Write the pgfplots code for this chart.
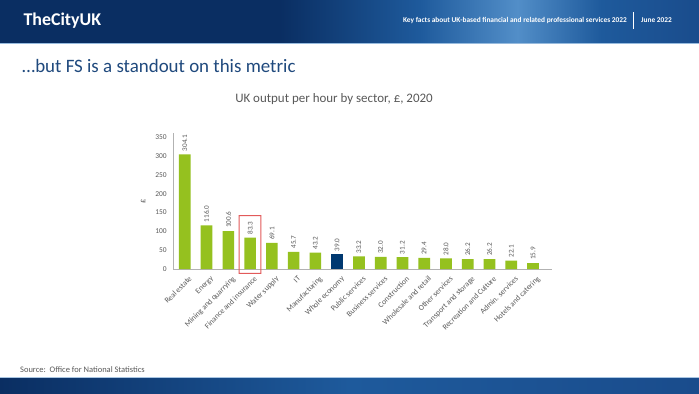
\documentclass[border=0pt]{standalone}
\usepackage{fontspec}
\setmainfont{Carlito}
\usepackage{pgfplots}
\pgfplotsset{compat=1.18}
\definecolor{barg}{RGB}{149,193,31}
\definecolor{barb}{RGB}{0,56,112}
\definecolor{txtg}{RGB}{89,89,89}
\definecolor{ttlb}{RGB}{31,73,125}
\definecolor{hdrA}{RGB}{10,46,98}
\definecolor{hdrB}{RGB}{30,90,156}
\definecolor{hdrC}{RGB}{82,142,200}
\definecolor{hdrD}{RGB}{26,76,140}
\definecolor{boxr}{RGB}{226,90,90}
\pgfdeclarehorizontalshading{hdr}{100bp}{color(0bp)=(hdrA); color(25bp)=(hdrA); color(45bp)=(hdrA); color(55bp)=(hdrB); color(62bp)=(hdrC); color(68bp)=(hdrB); color(75bp)=(hdrD); color(100bp)=(hdrD)}
\pgfplotstableread{
x y
0 304.1
1 116.0
2 100.6
3 83.3
4 69.1
5 45.7
6 43.2
8 33.2
9 32.0
10 31.2
11 29.4
12 28.0
13 26.2
14 26.2
15 22.1
16 15.9
}\greendata
\pgfplotstableread{
x y
7 39.0
}\bluedata
\begin{document}
\begin{tikzpicture}[x=1bp,y=1bp]
\useasboundingbox (0,0) rectangle (699,393);
\fill[white] (0,0) rectangle (699,393);
% header
\shade[shading=hdr] (0,350) rectangle (699,393);
\fill[hdrC!60!white] (0,349.5) rectangle (699,350.5);
\node[anchor=west, text=white, font=\fontsize{18}{20}\selectfont\bfseries] at (20,372.5) {TheCityUK};
\node[anchor=east, text=white, font=\fontsize{7.4}{9}\selectfont\bfseries, inner sep=0pt] at (627,373) {Key facts about UK-based financial and related professional services 2022};
\draw[white, line width=0.6pt] (633,364) -- (633,381);
\node[anchor=west, text=white, font=\fontsize{7.4}{9}\selectfont\bfseries, inner sep=0pt] at (641,373) {June 2022};
% footer
\shade[left color=hdrA, right color=hdrD, middle color=hdrB] (0,0) rectangle (699,16);
\fill[hdrC!50!white] (0,15.5) rectangle (699,16.5);
% titles
\node[anchor=west, text=ttlb, font=\fontsize{19}{22}\selectfont, inner sep=0pt] at (22,327) {…but FS is a standout on this metric};
\node[text=txtg, font=\fontsize{13}{15}\selectfont, inner sep=0pt] at (334,294) {UK output per hour by sector, £, 2020};
\node[anchor=west, text=txtg, font=\fontsize{8.5}{10}\selectfont, inner sep=0pt] at (20,23) {Source:\ \ Office for National Statistics};
\begin{axis}[
  at={(173.3bp,124bp)}, anchor=south west,
  scale only axis, width=378.4bp, height=135.7bp,
  xmin=-0.53, xmax=16.86, ymin=0, ymax=360,
  axis x line*=bottom, axis y line*=left,
  axis line style={-, draw=black!30, line width=0.8pt},
  ytick={0,50,...,350}, major tick length=0pt,
  xtick={0,...,16},
  xticklabels={Real estate,Energy,Mining and quarrying,Finance and insurance,Water supply,IT,Manufacturing,Whole economy,Public services,Business services,Construction,Wholesale and retail,Other services,Transport and storage,Recreation and Culture,{Admin. services},Hotels and catering},
  xticklabel style={rotate=45, anchor=north east, font=\fontsize{7.8}{9}\selectfont, text=txtg, inner sep=1pt, yshift=-6bp, xshift=-1bp},
  yticklabel style={font=\fontsize{7.5}{9}\selectfont, text=txtg, xshift=-3bp},
  /pgf/number format/assume math mode=true,
  ylabel={£}, ylabel style={at={(axis description cs:-0.08,0.5)}, anchor=center, font=\fontsize{8.5}{10}\selectfont, text=txtg},
  ybar, bar width=11.7bp,
  clip=false,
  nodes near coords,
  nodes near coords style={rotate=90, anchor=west, font=\fontsize{7.2}{8}\selectfont, text=txtg, inner sep=3bp,
    /pgf/number format/.cd, fixed, fixed zerofill, precision=1, assume math mode=true},
]
\addplot[fill=barg, draw=none, bar shift=0pt] table[x=x,y=y] {\greendata};
\addplot[fill=barb, draw=none, bar shift=0pt] table[x=x,y=y] {\bluedata};
\coordinate (b1) at (axis cs:2.5,-11.4);
\coordinate (b2) at (axis cs:3.5,141.4);
\end{axis}
\fill[fill=boxr, even odd rule] ([shift={(-0.5,-0.5)}]b1) rectangle ([shift={(0.5,0.5)}]b2) ([shift={(0.5,0.5)}]b1) rectangle ([shift={(-0.5,-0.5)}]b2);
\end{tikzpicture}
\end{document}
